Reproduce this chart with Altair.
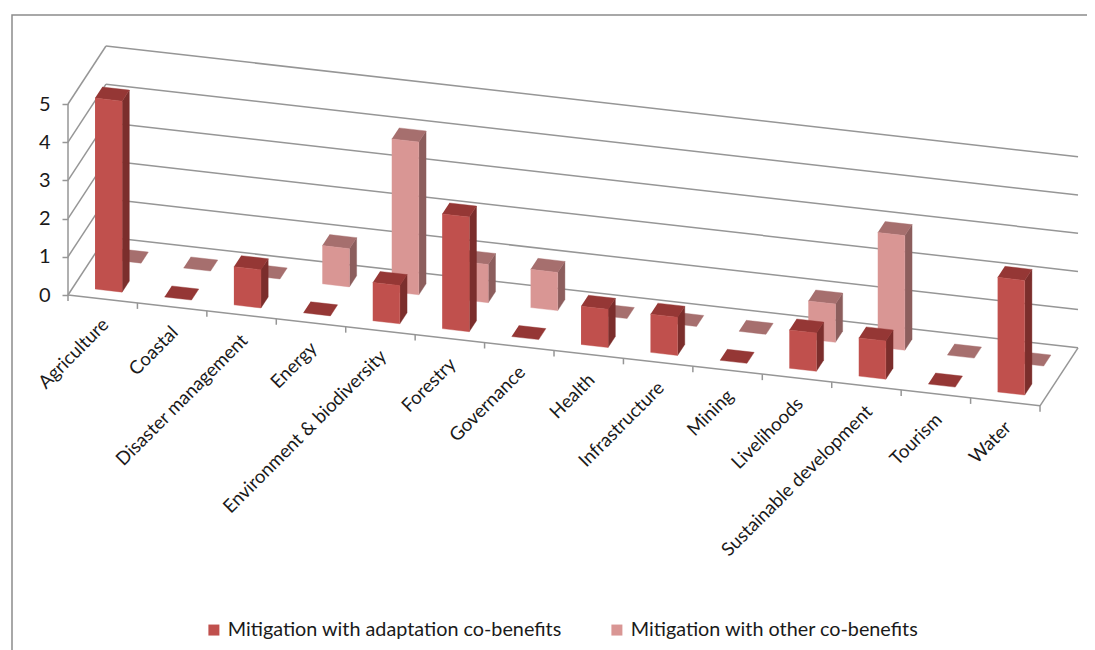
import altair as alt
import pandas as pd

categories = ["Agriculture", "Coastal", "Disaster management", "Energy",
              "Environment & biodiversity", "Forestry", "Governance", "Health",
              "Infrastructure", "Mining", "Livelihoods", "Sustainable development",
              "Tourism", "Water"]
adaptation = [5, 0, 1, 0, 1, 3, 0, 1, 1, 0, 1, 1, 0, 3]
other = [0, 0, 0, 1, 4, 1, 1, 0, 0, 0, 1, 3, 0, 0]
series_names = ["Mitigation with adaptation co-benefits", "Mitigation with other co-benefits"]
value_ticks = [0, 1, 2, 3, 4, 5]

FONT = "Lato"
GRID = "#969696"
W, H = 1079, 642
PX_I, PX_V = 69.43, 38.2       # pixels per category, per value unit
ORIGIN_X, ORIGIN_Y = 68, 295   # front-left floor corner in page pixels
DEPTH_DX, DEPTH_DY = 38, 58    # floor depth in pixels
FLOOR_SLOPE = 7.915            # floor drop per category in pixels
N = len(categories)


def proj(i, d, v):
    """Oblique 3-D projection into category / value units."""
    return (i + DEPTH_DX / PX_I * d,
            v + (-FLOOR_SLOPE * i + DEPTH_DY * d) / PX_V)


x_scale = alt.Scale(domain=[(8 - ORIGIN_X) / PX_I, (8 + W - ORIGIN_X) / PX_I], nice=False, zero=False)
y_scale = alt.Scale(domain=[(ORIGIN_Y - 8 - H) / PX_V, (ORIGIN_Y - 8) / PX_V], nice=False, zero=False)
X = alt.X("x:Q", scale=x_scale, axis=None)
Y = alt.Y("y:Q", scale=y_scale, axis=alt.Axis(
    values=value_ticks, title=None, grid=False, domain=False, offset=-(ORIGIN_X - 8),
    tickColor=GRID, tickSize=6, tickWidth=1.5, labelFont=FONT, labelFontSize=20,
    labelColor="#1a1a1a", labelPadding=12, format="d"))

# ---- bars as projected faces
I0, I1 = 0.31, 0.70
DEPTHS = {"front": (0.145, 0.335), "back": (0.645, 0.835)}


def faces(values, key, face):
    d0, d1 = DEPTHS[key]
    rows = []
    for c, v in enumerate(values):
        a, b = c + I0, c + I1
        if face == "front":
            pts = [(a, d0, 0), (b, d0, 0), (b, d0, v), (a, d0, v)]
        elif face == "side":
            pts = [(b, d0, 0), (b, d1, 0), (b, d1, v), (b, d0, v)]
        else:
            pts = [(a, d0, v), (b, d0, v), (b, d1, v), (a, d1, v)]
        if face != "top" and v == 0:
            continue
        for k, p in enumerate(pts):
            x, y = proj(*p)
            rows.append({"poly": c, "k": k, "x": x, "y": y})
    return pd.DataFrame(rows)


def face_layer(values, key, face, color):
    return alt.Chart(faces(values, key, face)).mark_line(
        fill=color, stroke=color, strokeWidth=0.4, clip=False
    ).encode(x=X, y=Y, detail="poly:N", order="k:Q")


# ---- walls, floor and ticks
def seg_rows():
    rows = []
    sid = 0

    def add(a, b):
        nonlocal sid
        for k, p in enumerate((a, b)):
            x, y = proj(*p)
            rows.append({"seg": sid, "k": k, "x": x, "y": y})
        sid += 1

    for v in value_ticks:
        add((0, 0, v), (0, 1, v))
        add((0, 1, v), (N, 1, v))
    add((0, 0, 0), (0, 0, value_ticks[-1]))
    add((0, 0, 0), (N, 0, 0))
    add((N, 0, 0), (N, 1, 0))
    for c in range(N + 1):
        add((c, 0, 0), (c, 0, -6 / PX_V))
    return pd.DataFrame(rows)


grid = alt.Chart(seg_rows()).mark_line(color=GRID, strokeWidth=1.5).encode(
    x=X, y=Y, detail="seg:N", order="k:Q")

# ---- category labels
lab_rows = []
for c, name in enumerate(categories):
    x, y = proj(c + 0.5, 0, 0)
    lab_rows.append({"x": x, "y": y, "name": name})
labels = alt.Chart(pd.DataFrame(lab_rows)).mark_text(
    angle=315, align="right", baseline="middle", font=FONT, fontSize=18.6, color="#1a1a1a",
    dx=-14, dy=18,
).encode(x=X, y=Y, text="name:N")

# ---- frame
fx = (12 - ORIGIN_X) / PX_I
fy = (ORIGIN_Y - 15) / PX_V
frame_df = pd.DataFrame({
    "x": [fx, fx, (8 + W - ORIGIN_X) / PX_I],
    "y": [(ORIGIN_Y - 8 - H) / PX_V, fy, fy],
    "k": [0, 1, 2],
})
frame = alt.Chart(frame_df).mark_line(color="#8c8c8c", strokeWidth=1.5).encode(x=X, y=Y, order="k:Q")

# ---- legend
legend_df = pd.DataFrame({"x": [0, 0], "y": [0, 0], "s": series_names})
legend = alt.Chart(legend_df).mark_square(size=0, opacity=1).encode(
    x=X, y=Y,
    color=alt.Color("s:N", sort=series_names,
                    scale=alt.Scale(domain=series_names, range=["#C0504D", "#D99694"]),
                    legend=alt.Legend(orient="none", legendX=196, legendY=612, direction="horizontal",
                                      title=None, symbolType="square", symbolSize=121,
                                      symbolStrokeWidth=0, symbolOpacity=1, labelFont=FONT,
                                      labelFontSize=19.8, labelColor="#1a1a1a", columnPadding=45,
                                      labelLimit=500)),
)

chart = alt.layer(
    frame, grid,
    face_layer(other, "back", "side", "#8C5E5D"),
    face_layer(other, "back", "top", "#A66F6E"),
    face_layer(other, "back", "front", "#D99694"),
    face_layer(adaptation, "front", "side", "#7B2E2C"),
    face_layer(adaptation, "front", "top", "#953735"),
    face_layer(adaptation, "front", "front", "#C0504D"),
    labels, legend,
).resolve_scale(color="independent").properties(
    width=W, height=H, padding=0, autosize=alt.AutoSizeParams(type="none"),
).configure_view(stroke=None)

chart.save("out.html", embed_options={"renderer": "svg", "actions": False})
